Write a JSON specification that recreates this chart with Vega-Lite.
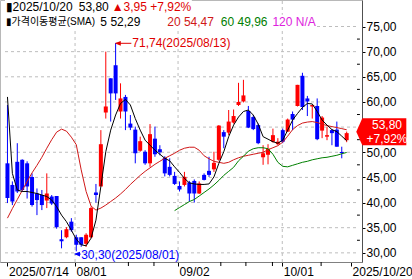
{
  "$schema": "https://vega.github.io/schema/vega-lite/v6.json",
  "width": 362,
  "height": 262,
  "autosize": {"type": "none"},
  "padding": {"left": 0, "top": 0, "right": 50, "bottom": 17},
  "background": "white",
  "config": {
    "view": {"stroke": "#b8b8b8"},
    "font": "Liberation Sans",
    "axis": {"labelFontSize": 12, "labelColor": "#000000", "labelFont": "Liberation Sans", "labelOverlap": false, "labelFlush": false, "labelBound": false, "tickColor": "#000000", "grid": false},
    "axisX": {"labelAlign": "left", "labelPadding": 0, "labelOffset": 1, "tickSize": 4, "domainColor": "#808080"},
    "axisY": {"labelPadding": 1, "tickSize": 3, "domainColor": "#505050"}
  },
  "data": {"values": [
    {"d":"07/14","i":0,"o":47.8,"h":59.4,"l":39.9,"c":40.9,"s5":61.0,"s20":36.9},
    {"d":"07/15","i":1,"o":43.5,"h":44.2,"l":39.5,"c":40.2,"s5":45.8,"s20":38.8},
    {"d":"07/16","i":2,"o":48.1,"h":51.8,"l":41.9,"c":42.2,"s5":42.5,"s20":40.6},
    {"d":"07/17","i":3,"o":48.5,"h":48.6,"l":42.2,"c":42.5,"s5":42.2,"s20":42.4},
    {"d":"07/18","i":4,"o":47.8,"h":48.2,"l":40.8,"c":43.2,"s5":42.2,"s20":44.2},
    {"d":"07/21","i":5,"o":45.1,"h":45.8,"l":39.2,"c":39.5,"s5":42.0,"s20":45.9},
    {"d":"07/22","i":6,"o":41.8,"h":42.8,"l":37.5,"c":40.5,"s5":41.8,"s20":47.4},
    {"d":"07/23","i":7,"o":41.5,"h":42.5,"l":38.5,"c":39.5,"s5":41.5,"s20":49.0},
    {"d":"07/24","i":8,"o":40.4,"h":45.8,"l":38.9,"c":41.8,"s5":41.2,"s20":50.8},
    {"d":"07/25","i":9,"o":41.2,"h":41.5,"l":39.5,"c":39.8,"s5":40.5,"s20":52.5},
    {"d":"07/28","i":10,"o":41.3,"h":41.3,"l":34.8,"c":35.1,"s5":39.2,"s20":54.0},
    {"d":"07/29","i":11,"o":32.7,"h":34.5,"l":30.9,"c":32.3,"s5":37.5,"s20":54.6},
    {"d":"07/30","i":12,"o":33.1,"h":35.1,"l":32.9,"c":34.7,"s5":36.2,"s20":54.2},
    {"d":"07/31","i":13,"o":36.2,"h":36.9,"l":34.2,"c":34.5,"s5":34.5,"s20":53.0},
    {"d":"08/01","i":14,"o":33.1,"h":33.6,"l":30.3,"c":31.6,"s5":32.7,"s20":51.5},
    {"d":"08/04","i":15,"o":33.1,"h":33.1,"l":31.2,"c":31.6,"s5":31.6,"s20":46.5},
    {"d":"08/05","i":16,"o":31.8,"h":33.9,"l":31.2,"c":33.6,"s5":31.4,"s20":42.2},
    {"d":"08/06","i":17,"o":33.1,"h":39.2,"l":32.9,"c":38.9,"s5":32.9,"s20":39.3},
    {"d":"08/07","i":18,"o":42.0,"h":43.7,"l":40.0,"c":41.5,"s5":36.5,"s20":38.5},
    {"d":"08/08","i":19,"o":43.2,"h":54.4,"l":43.2,"c":51.6,"s5":43.2,"s20":38.9},
    {"d":"08/11","i":20,"o":57.9,"h":70.0,"l":56.7,"c":59.1,"s5":50.1,"s20":39.5},
    {"d":"08/12","i":21,"o":64.7,"h":64.7,"l":56.1,"c":61.7,"s5":54.4,"s20":40.2},
    {"d":"08/13","i":22,"o":67.3,"h":71.74,"l":60.4,"c":61.7,"s5":57.4,"s20":40.9},
    {"d":"08/14","i":23,"o":58.1,"h":63.7,"l":56.7,"c":60.7,"s5":59.7,"s20":41.7},
    {"d":"08/15","i":24,"o":61.0,"h":61.4,"l":54.4,"c":58.1,"s5":60.5,"s20":42.6},
    {"d":"08/18","i":25,"o":55.7,"h":57.4,"l":54.4,"c":54.9,"s5":59.4,"s20":43.6},
    {"d":"08/19","i":26,"o":54.5,"h":55.1,"l":47.8,"c":49.8,"s5":56.7,"s20":44.5},
    {"d":"08/20","i":27,"o":50.3,"h":53.1,"l":50.1,"c":52.2,"s5":54.4,"s20":45.4},
    {"d":"08/21","i":28,"o":50.1,"h":50.4,"l":47.5,"c":47.8,"s5":52.4,"s20":46.2},
    {"d":"08/22","i":29,"o":47.8,"h":55.6,"l":47.1,"c":53.6,"s5":51.4,"s20":46.9},
    {"d":"08/25","i":30,"o":52.7,"h":55.1,"l":49.1,"c":49.6,"s5":50.4,"s20":47.6},
    {"d":"08/26","i":31,"o":50.6,"h":51.4,"l":49.4,"c":50.0,"s5":49.6,"s20":48.2},
    {"d":"08/27","i":32,"o":48.9,"h":49.2,"l":45.2,"c":45.8,"s5":48.8,"s20":48.8},
    {"d":"08/28","i":33,"o":47.1,"h":48.8,"l":45.2,"c":45.5,"s5":48.3,"s20":49.3},
    {"d":"08/29","i":34,"o":45.3,"h":46.1,"l":43.5,"c":43.7,"s5":47.1,"s20":49.8,"s60":38.4},
    {"d":"09/02","i":35,"o":43.3,"h":44.2,"l":42.2,"c":42.6,"s5":46.0,"s20":50.4,"s60":39.0},
    {"d":"09/03","i":36,"o":43.5,"h":46.1,"l":43.2,"c":45.1,"s5":44.8,"s20":50.8,"s60":39.6},
    {"d":"09/04","i":37,"o":44.0,"h":44.3,"l":40.2,"c":41.8,"s5":43.9,"s20":51.0,"s60":40.2},
    {"d":"09/05","i":38,"o":44.3,"h":44.6,"l":40.0,"c":41.8,"s5":43.7,"s20":51.0,"s60":40.6},
    {"d":"09/08","i":39,"o":41.8,"h":44.2,"l":41.7,"c":43.8,"s5":43.6,"s20":50.4,"s60":41.3},
    {"d":"09/09","i":40,"o":45.5,"h":45.8,"l":44.4,"c":44.5,"s5":43.6,"s20":49.3,"s60":42.0},
    {"d":"09/10","i":41,"o":46.3,"h":49.1,"l":45.1,"c":45.5,"s5":43.7,"s20":48.7,"s60":42.7},
    {"d":"09/11","i":42,"o":46.6,"h":50.1,"l":46.1,"c":47.9,"s5":45.1,"s20":48.2,"s60":43.5},
    {"d":"09/12","i":43,"o":48.5,"h":55.4,"l":48.3,"c":55.3,"s5":47.8,"s20":48.0,"s60":44.4},
    {"d":"09/15","i":44,"o":54.0,"h":54.4,"l":50.8,"c":53.1,"s5":50.1,"s20":47.8,"s60":45.4},
    {"d":"09/16","i":45,"o":53.9,"h":58.4,"l":53.4,"c":56.1,"s5":53.1,"s20":48.0,"s60":46.2},
    {"d":"09/17","i":46,"o":55.9,"h":58.5,"l":55.7,"c":57.2,"s5":55.4,"s20":48.5,"s60":47.0},
    {"d":"09/18","i":47,"o":59.4,"h":63.8,"l":59.2,"c":60.0,"s5":57.0,"s20":48.9,"s60":48.3},
    {"d":"09/19","i":48,"o":60.1,"h":64.4,"l":59.9,"c":61.3,"s5":58.1,"s20":49.2,"s60":49.2},
    {"d":"09/22","i":49,"o":58.2,"h":59.2,"l":54.8,"c":54.9,"s5":58.4,"s20":49.4,"s60":50.2},
    {"d":"09/23","i":50,"o":57.0,"h":57.4,"l":54.4,"c":54.6,"s5":57.4,"s20":49.6,"s60":50.7},
    {"d":"09/24","i":51,"o":55.4,"h":55.7,"l":51.6,"c":51.8,"s5":55.6,"s20":49.8,"s60":50.9},
    {"d":"09/25","i":52,"o":49.0,"h":51.4,"l":47.5,"c":49.8,"s5":53.1,"s20":50.0,"s60":50.9},
    {"d":"09/26","i":53,"o":49.5,"h":51.6,"l":47.6,"c":50.7,"s5":52.6,"s20":50.5,"s60":50.7},
    {"d":"09/29","i":54,"o":52.1,"h":54.7,"l":51.9,"c":53.4,"s5":52.1,"s20":50.9,"s60":49.6},
    {"d":"09/30","i":55,"o":51.6,"h":52.8,"l":51.4,"c":52.1,"s5":51.8,"s20":51.3,"s60":48.0},
    {"d":"10/01","i":56,"o":54.4,"h":54.7,"l":51.8,"c":52.1,"s5":52.4,"s20":52.0,"s60":47.2},
    {"d":"10/02","i":57,"o":54.1,"h":56.7,"l":54.0,"c":56.5,"s5":54.4,"s20":53.2,"s60":47.1},
    {"d":"10/03","i":58,"o":57.6,"h":58.1,"l":54.4,"c":56.5,"s5":56.4,"s20":54.5,"s60":47.4},
    {"d":"10/06","i":59,"o":59.2,"h":63.4,"l":59.1,"c":63.4,"s5":57.7,"s20":55.3,"s60":47.7},
    {"d":"10/07","i":60,"o":65.2,"h":65.8,"l":58.4,"c":59.0,"s5":58.9,"s20":55.8,"s60":48.0},
    {"d":"10/08","i":61,"o":60.7,"h":61.2,"l":57.2,"c":60.1,"s5":59.7,"s20":56.0,"s60":48.2},
    {"d":"10/09","i":62,"o":59.1,"h":59.4,"l":56.7,"c":59.4,"s5":59.6,"s20":56.1,"s60":48.5},
    {"d":"10/10","i":63,"o":59.2,"h":60.7,"l":52.4,"c":52.6,"s5":58.1,"s20":55.9,"s60":48.7},
    {"d":"10/13","i":64,"o":54.3,"h":57.2,"l":52.8,"c":56.9,"s5":56.4,"s20":55.6,"s60":48.9},
    {"d":"10/14","i":65,"o":53.1,"h":55.1,"l":52.4,"c":53.4,"s5":55.4,"s20":55.3,"s60":49.0},
    {"d":"10/15","i":66,"o":54.4,"h":54.6,"l":51.4,"c":53.8,"s5":54.5,"s20":55.1,"s60":49.2},
    {"d":"10/16","i":67,"o":54.5,"h":56.1,"l":51.1,"c":51.1,"s5":54.1,"s20":54.9,"s60":49.4},
    {"d":"10/17","i":68,"o":50.05,"h":51.1,"l":48.8,"c":49.85,"s5":53.2,"s20":54.7,"s60":49.7},
    {"d":"10/20","i":69,"o":52.4,"h":54.1,"l":52.0,"c":53.8,"s5":52.3,"s20":54.47,"s60":49.96}
  ]},
  "layer": [
    {
      "data": {"values": [{"g":30},{"g":35},{"g":40},{"g":45},{"g":50},{"g":55},{"g":60},{"g":65},{"g":70},{"g":75}]},
      "mark": {"type": "rule", "color": "#bdbdbd", "strokeDash": [3, 3], "strokeWidth": 1},
      "encoding": {
        "x": {"datum": -0.5, "type": "quantitative", "title": null, "scale": {"domain": [-0.5, 71.1], "nice": false, "zero": false}, "axis": {"values": [0, 13.75, 34.7, 55.9, 69.9], "labelExpr": "datum.value==0?'2025/07/14':datum.value==13.75?'08/01':datum.value==34.7?'09/02':datum.value==55.9?'10/01':'2025/10/20'"}},
        "x2": {"datum": 71.1},
        "y": {"field": "g", "type": "quantitative", "title": null, "scale": {"domain": [28.18, 80.27], "nice": false, "zero": false}, "axis": {"orient": "right", "values": [30, 35, 40, 45, 50, 55, 60, 65, 70, 75], "labelExpr": "datum.value==55?'':replace(format(datum.value,'.2f'),'.',',')"}}
      }
    },
    {
      "data": {"values": [{"t":13.75},{"t":34.7},{"t":55.9}]},
      "mark": {"type": "rule", "color": "#bdbdbd", "strokeDash": [3, 3], "strokeWidth": 1},
      "encoding": {
        "x": {"field": "t", "type": "quantitative", "title": null, "scale": {"domain": [-0.5, 71.1], "nice": false, "zero": false}, "axis": {"values": [0, 13.75, 34.7, 55.9, 69.9], "labelExpr": "datum.value==0?'2025/07/14':datum.value==13.75?'08/01':datum.value==34.7?'09/02':datum.value==55.9?'10/01':'2025/10/20'"}},
        "y": {"datum": 28.18, "type": "quantitative", "title": null, "scale": {"domain": [28.18, 80.27], "nice": false, "zero": false}, "axis": {"orient": "right", "values": [30, 35, 40, 45, 50, 55, 60, 65, 70, 75], "labelExpr": "datum.value==55?'':replace(format(datum.value,'.2f'),'.',',')"}},
        "y2": {"datum": 80.27}
      }
    },
    {
      "data": {"values": [{"t":24.6},{"t":29.8},{"t":43.4},{"t":48.5},{"t":53.9},{"t":63.8}]},
      "mark": {"type": "rule", "color": "#000000", "strokeWidth": 1},
      "encoding": {
        "x": {"field": "t", "type": "quantitative", "title": null, "scale": {"domain": [-0.5, 71.1], "nice": false, "zero": false}, "axis": {"values": [0, 13.75, 34.7, 55.9, 69.9], "labelExpr": "datum.value==0?'2025/07/14':datum.value==13.75?'08/01':datum.value==34.7?'09/02':datum.value==55.9?'10/01':'2025/10/20'"}},
        "y": {"datum": 28.18, "type": "quantitative", "title": null, "scale": {"domain": [28.18, 80.27], "nice": false, "zero": false}, "axis": {"orient": "right", "values": [30, 35, 40, 45, 50, 55, 60, 65, 70, 75], "labelExpr": "datum.value==55?'':replace(format(datum.value,'.2f'),'.',',')"}},
        "y2": {"datum": 27.38}
      }
    },
    {
      "data": {"values": [{"t":32.5},{"t":37.5},{"t":42.5},{"t":47.5},{"t":52.5},{"t":57.5},{"t":62.5},{"t":67.5},{"t":72.5}]},
      "mark": {"type": "rule", "color": "#000000", "strokeWidth": 1},
      "encoding": {
        "x": {"datum": 71.1, "type": "quantitative", "title": null, "scale": {"domain": [-0.5, 71.1], "nice": false, "zero": false}, "axis": {"values": [0, 13.75, 34.7, 55.9, 69.9], "labelExpr": "datum.value==0?'2025/07/14':datum.value==13.75?'08/01':datum.value==34.7?'09/02':datum.value==55.9?'10/01':'2025/10/20'"}},
        "x2": {"datum": 71.69},
        "y": {"field": "t", "type": "quantitative", "title": null, "scale": {"domain": [28.18, 80.27], "nice": false, "zero": false}, "axis": {"orient": "right", "values": [30, 35, 40, 45, 50, 55, 60, 65, 70, 75], "labelExpr": "datum.value==55?'':replace(format(datum.value,'.2f'),'.',',')"}}
      }
    },
    {
      "mark": {"type": "rule", "strokeWidth": 1},
      "encoding": {
        "x": {"field": "i", "type": "quantitative", "title": null, "scale": {"domain": [-0.5, 71.1], "nice": false, "zero": false}, "axis": {"values": [0, 13.75, 34.7, 55.9, 69.9], "labelExpr": "datum.value==0?'2025/07/14':datum.value==13.75?'08/01':datum.value==34.7?'09/02':datum.value==55.9?'10/01':'2025/10/20'"}},
        "y": {"field": "l", "type": "quantitative", "title": null, "scale": {"domain": [28.18, 80.27], "nice": false, "zero": false}, "axis": {"orient": "right", "values": [30, 35, 40, 45, 50, 55, 60, 65, 70, 75], "labelExpr": "datum.value==55?'':replace(format(datum.value,'.2f'),'.',',')"}},
        "y2": {"field": "h"},
        "color": {"condition": {"test": "datum.c >= datum.o", "value": "#ff0000"}, "value": "#0000ff"}
      }
    },
    {
      "mark": {"type": "bar", "size": 4},
      "encoding": {
        "x": {"field": "i", "type": "quantitative", "title": null, "scale": {"domain": [-0.5, 71.1], "nice": false, "zero": false}, "axis": {"values": [0, 13.75, 34.7, 55.9, 69.9], "labelExpr": "datum.value==0?'2025/07/14':datum.value==13.75?'08/01':datum.value==34.7?'09/02':datum.value==55.9?'10/01':'2025/10/20'"}},
        "y": {"field": "o", "type": "quantitative", "title": null, "scale": {"domain": [28.18, 80.27], "nice": false, "zero": false}, "axis": {"orient": "right", "values": [30, 35, 40, 45, 50, 55, 60, 65, 70, 75], "labelExpr": "datum.value==55?'':replace(format(datum.value,'.2f'),'.',',')"}},
        "y2": {"field": "c"},
        "color": {"condition": {"test": "datum.c >= datum.o", "value": "#ff0000"}, "value": "#0000ff"}
      }
    },
    {
      "mark": {"type": "line", "color": "#d01818", "strokeWidth": 1},
      "encoding": {
        "x": {"field": "i", "type": "quantitative", "title": null, "scale": {"domain": [-0.5, 71.1], "nice": false, "zero": false}, "axis": {"values": [0, 13.75, 34.7, 55.9, 69.9], "labelExpr": "datum.value==0?'2025/07/14':datum.value==13.75?'08/01':datum.value==34.7?'09/02':datum.value==55.9?'10/01':'2025/10/20'"}},
        "y": {"field": "s20", "type": "quantitative", "title": null, "scale": {"domain": [28.18, 80.27], "nice": false, "zero": false}, "axis": {"orient": "right", "values": [30, 35, 40, 45, 50, 55, 60, 65, 70, 75], "labelExpr": "datum.value==55?'':replace(format(datum.value,'.2f'),'.',',')"}}
      }
    },
    {
      "mark": {"type": "line", "color": "#008000", "strokeWidth": 1},
      "encoding": {
        "x": {"field": "i", "type": "quantitative", "title": null, "scale": {"domain": [-0.5, 71.1], "nice": false, "zero": false}, "axis": {"values": [0, 13.75, 34.7, 55.9, 69.9], "labelExpr": "datum.value==0?'2025/07/14':datum.value==13.75?'08/01':datum.value==34.7?'09/02':datum.value==55.9?'10/01':'2025/10/20'"}},
        "y": {"field": "s60", "type": "quantitative", "title": null, "scale": {"domain": [28.18, 80.27], "nice": false, "zero": false}, "axis": {"orient": "right", "values": [30, 35, 40, 45, 50, 55, 60, 65, 70, 75], "labelExpr": "datum.value==55?'':replace(format(datum.value,'.2f'),'.',',')"}}
      }
    },
    {
      "mark": {"type": "line", "color": "#000000", "strokeWidth": 1},
      "encoding": {
        "x": {"field": "i", "type": "quantitative", "title": null, "scale": {"domain": [-0.5, 71.1], "nice": false, "zero": false}, "axis": {"values": [0, 13.75, 34.7, 55.9, 69.9], "labelExpr": "datum.value==0?'2025/07/14':datum.value==13.75?'08/01':datum.value==34.7?'09/02':datum.value==55.9?'10/01':'2025/10/20'"}},
        "y": {"field": "s5", "type": "quantitative", "title": null, "scale": {"domain": [28.18, 80.27], "nice": false, "zero": false}, "axis": {"orient": "right", "values": [30, 35, 40, 45, 50, 55, 60, 65, 70, 75], "labelExpr": "datum.value==55?'':replace(format(datum.value,'.2f'),'.',',')"}}
      }
    },
    {
      "data": {"values": [{}]},
      "mark": {"type": "rect", "color": "white"},
      "encoding": {
        "x": {"datum": -0.5, "type": "quantitative", "title": null, "scale": {"domain": [-0.5, 71.1], "nice": false, "zero": false}, "axis": {"values": [0, 13.75, 34.7, 55.9, 69.9], "labelExpr": "datum.value==0?'2025/07/14':datum.value==13.75?'08/01':datum.value==34.7?'09/02':datum.value==55.9?'10/01':'2025/10/20'"}},
        "x2": {"datum": 37.5},
        "y": {"datum": 80.27, "type": "quantitative", "title": null, "scale": {"domain": [28.18, 80.27], "nice": false, "zero": false}, "axis": {"orient": "right", "values": [30, 35, 40, 45, 50, 55, 60, 65, 70, 75], "labelExpr": "datum.value==55?'':replace(format(datum.value,'.2f'),'.',',')"}},
        "y2": {"datum": 77.35}
      }
    },
    {
      "data": {"values": [{}]},
      "mark": {"type": "rect", "color": "white"},
      "encoding": {
        "x": {"datum": -0.5, "type": "quantitative", "title": null, "scale": {"domain": [-0.5, 71.1], "nice": false, "zero": false}, "axis": {"values": [0, 13.75, 34.7, 55.9, 69.9], "labelExpr": "datum.value==0?'2025/07/14':datum.value==13.75?'08/01':datum.value==34.7?'09/02':datum.value==55.9?'10/01':'2025/10/20'"}},
        "x2": {"datum": 62.8},
        "y": {"datum": 77.35, "type": "quantitative", "title": null, "scale": {"domain": [28.18, 80.27], "nice": false, "zero": false}, "axis": {"orient": "right", "values": [30, 35, 40, 45, 50, 55, 60, 65, 70, 75], "labelExpr": "datum.value==55?'':replace(format(datum.value,'.2f'),'.',',')"}},
        "y2": {"datum": 74.6}
      }
    },
    {
      "data": {"values": [{}]},
      "mark": {"type": "text", "align": "left", "baseline": "middle", "fontSize": 12, "font": "Liberation Sans, DejaVu Sans", "color": "#000000", "text": "▮2025/10/20"},
      "encoding": {
        "x": {"datum": -0.3, "type": "quantitative", "title": null, "scale": {"domain": [-0.5, 71.1], "nice": false, "zero": false}, "axis": {"values": [0, 13.75, 34.7, 55.9, 69.9], "labelExpr": "datum.value==0?'2025/07/14':datum.value==13.75?'08/01':datum.value==34.7?'09/02':datum.value==55.9?'10/01':'2025/10/20'"}},
        "y": {"datum": 78.9, "type": "quantitative", "title": null, "scale": {"domain": [28.18, 80.27], "nice": false, "zero": false}, "axis": {"orient": "right", "values": [30, 35, 40, 45, 50, 55, 60, 65, 70, 75], "labelExpr": "datum.value==55?'':replace(format(datum.value,'.2f'),'.',',')"}}
      }
    },
    {
      "data": {"values": [{}]},
      "mark": {"type": "text", "align": "left", "baseline": "middle", "fontSize": 12, "font": "Liberation Sans", "color": "#000000", "text": "53,80"},
      "encoding": {
        "x": {"datum": 14.5, "type": "quantitative", "title": null, "scale": {"domain": [-0.5, 71.1], "nice": false, "zero": false}, "axis": {"values": [0, 13.75, 34.7, 55.9, 69.9], "labelExpr": "datum.value==0?'2025/07/14':datum.value==13.75?'08/01':datum.value==34.7?'09/02':datum.value==55.9?'10/01':'2025/10/20'"}},
        "y": {"datum": 78.9, "type": "quantitative", "title": null, "scale": {"domain": [28.18, 80.27], "nice": false, "zero": false}, "axis": {"orient": "right", "values": [30, 35, 40, 45, 50, 55, 60, 65, 70, 75], "labelExpr": "datum.value==55?'':replace(format(datum.value,'.2f'),'.',',')"}}
      }
    },
    {
      "data": {"values": [{}]},
      "mark": {"type": "text", "align": "left", "baseline": "middle", "fontSize": 12, "font": "Liberation Sans, DejaVu Sans", "color": "#e00000", "text": "▲3,95 +7,92%"},
      "encoding": {
        "x": {"datum": 21.2, "type": "quantitative", "title": null, "scale": {"domain": [-0.5, 71.1], "nice": false, "zero": false}, "axis": {"values": [0, 13.75, 34.7, 55.9, 69.9], "labelExpr": "datum.value==0?'2025/07/14':datum.value==13.75?'08/01':datum.value==34.7?'09/02':datum.value==55.9?'10/01':'2025/10/20'"}},
        "y": {"datum": 78.9, "type": "quantitative", "title": null, "scale": {"domain": [28.18, 80.27], "nice": false, "zero": false}, "axis": {"orient": "right", "values": [30, 35, 40, 45, 50, 55, 60, 65, 70, 75], "labelExpr": "datum.value==55?'':replace(format(datum.value,'.2f'),'.',',')"}}
      }
    },
    {
      "data": {"values": [{}]},
      "mark": {"type": "text", "align": "left", "baseline": "middle", "fontSize": 10, "font": "Liberation Sans, DejaVu Sans, Noto Sans CJK KR", "color": "#000000", "text": "▮가격이동평균(SMA)"},
      "encoding": {
        "x": {"datum": -0.3, "type": "quantitative", "title": null, "scale": {"domain": [-0.5, 71.1], "nice": false, "zero": false}, "axis": {"values": [0, 13.75, 34.7, 55.9, 69.9], "labelExpr": "datum.value==0?'2025/07/14':datum.value==13.75?'08/01':datum.value==34.7?'09/02':datum.value==55.9?'10/01':'2025/10/20'"}},
        "y": {"datum": 75.9, "type": "quantitative", "title": null, "scale": {"domain": [28.18, 80.27], "nice": false, "zero": false}, "axis": {"orient": "right", "values": [30, 35, 40, 45, 50, 55, 60, 65, 70, 75], "labelExpr": "datum.value==55?'':replace(format(datum.value,'.2f'),'.',',')"}}
      }
    },
    {
      "data": {"values": [{}]},
      "mark": {"type": "text", "align": "left", "baseline": "middle", "fontSize": 12, "font": "Liberation Sans", "color": "#000000", "text": "5 52,29"},
      "encoding": {
        "x": {"datum": 18.9, "type": "quantitative", "title": null, "scale": {"domain": [-0.5, 71.1], "nice": false, "zero": false}, "axis": {"values": [0, 13.75, 34.7, 55.9, 69.9], "labelExpr": "datum.value==0?'2025/07/14':datum.value==13.75?'08/01':datum.value==34.7?'09/02':datum.value==55.9?'10/01':'2025/10/20'"}},
        "y": {"datum": 75.9, "type": "quantitative", "title": null, "scale": {"domain": [28.18, 80.27], "nice": false, "zero": false}, "axis": {"orient": "right", "values": [30, 35, 40, 45, 50, 55, 60, 65, 70, 75], "labelExpr": "datum.value==55?'':replace(format(datum.value,'.2f'),'.',',')"}}
      }
    },
    {
      "data": {"values": [{}]},
      "mark": {"type": "text", "align": "left", "baseline": "middle", "fontSize": 12, "font": "Liberation Sans", "color": "#d01818", "text": "20 54,47"},
      "encoding": {
        "x": {"datum": 32.5, "type": "quantitative", "title": null, "scale": {"domain": [-0.5, 71.1], "nice": false, "zero": false}, "axis": {"values": [0, 13.75, 34.7, 55.9, 69.9], "labelExpr": "datum.value==0?'2025/07/14':datum.value==13.75?'08/01':datum.value==34.7?'09/02':datum.value==55.9?'10/01':'2025/10/20'"}},
        "y": {"datum": 75.9, "type": "quantitative", "title": null, "scale": {"domain": [28.18, 80.27], "nice": false, "zero": false}, "axis": {"orient": "right", "values": [30, 35, 40, 45, 50, 55, 60, 65, 70, 75], "labelExpr": "datum.value==55?'':replace(format(datum.value,'.2f'),'.',',')"}}
      }
    },
    {
      "data": {"values": [{}]},
      "mark": {"type": "text", "align": "left", "baseline": "middle", "fontSize": 12, "font": "Liberation Sans", "color": "#008000", "text": "60 49,96"},
      "encoding": {
        "x": {"datum": 43.4, "type": "quantitative", "title": null, "scale": {"domain": [-0.5, 71.1], "nice": false, "zero": false}, "axis": {"values": [0, 13.75, 34.7, 55.9, 69.9], "labelExpr": "datum.value==0?'2025/07/14':datum.value==13.75?'08/01':datum.value==34.7?'09/02':datum.value==55.9?'10/01':'2025/10/20'"}},
        "y": {"datum": 75.9, "type": "quantitative", "title": null, "scale": {"domain": [28.18, 80.27], "nice": false, "zero": false}, "axis": {"orient": "right", "values": [30, 35, 40, 45, 50, 55, 60, 65, 70, 75], "labelExpr": "datum.value==55?'':replace(format(datum.value,'.2f'),'.',',')"}}
      }
    },
    {
      "data": {"values": [{}]},
      "mark": {"type": "text", "align": "left", "baseline": "middle", "fontSize": 12, "font": "Liberation Sans", "color": "#dd22dd", "text": "120 N/A"},
      "encoding": {
        "x": {"datum": 53.9, "type": "quantitative", "title": null, "scale": {"domain": [-0.5, 71.1], "nice": false, "zero": false}, "axis": {"values": [0, 13.75, 34.7, 55.9, 69.9], "labelExpr": "datum.value==0?'2025/07/14':datum.value==13.75?'08/01':datum.value==34.7?'09/02':datum.value==55.9?'10/01':'2025/10/20'"}},
        "y": {"datum": 75.9, "type": "quantitative", "title": null, "scale": {"domain": [28.18, 80.27], "nice": false, "zero": false}, "axis": {"orient": "right", "values": [30, 35, 40, 45, 50, 55, 60, 65, 70, 75], "labelExpr": "datum.value==55?'':replace(format(datum.value,'.2f'),'.',',')"}}
      }
    },
    {
      "data": {"values": [{}]},
      "mark": {"type": "rule", "color": "#e00000", "strokeWidth": 1},
      "encoding": {
        "x": {"datum": 22.1, "type": "quantitative", "title": null, "scale": {"domain": [-0.5, 71.1], "nice": false, "zero": false}, "axis": {"values": [0, 13.75, 34.7, 55.9, 69.9], "labelExpr": "datum.value==0?'2025/07/14':datum.value==13.75?'08/01':datum.value==34.7?'09/02':datum.value==55.9?'10/01':'2025/10/20'"}},
        "x2": {"datum": 25.2},
        "y": {"datum": 71.66, "type": "quantitative", "title": null, "scale": {"domain": [28.18, 80.27], "nice": false, "zero": false}, "axis": {"orient": "right", "values": [30, 35, 40, 45, 50, 55, 60, 65, 70, 75], "labelExpr": "datum.value==55?'':replace(format(datum.value,'.2f'),'.',',')"}}
      }
    },
    {
      "data": {"values": [{}]},
      "mark": {"type": "point", "shape": "M-1,0L1,-0.8L1,0.8Z", "filled": true, "size": 36, "color": "#e00000", "opacity": 1},
      "encoding": {
        "x": {"datum": 22.45, "type": "quantitative", "title": null, "scale": {"domain": [-0.5, 71.1], "nice": false, "zero": false}, "axis": {"values": [0, 13.75, 34.7, 55.9, 69.9], "labelExpr": "datum.value==0?'2025/07/14':datum.value==13.75?'08/01':datum.value==34.7?'09/02':datum.value==55.9?'10/01':'2025/10/20'"}},
        "y": {"datum": 71.66, "type": "quantitative", "title": null, "scale": {"domain": [28.18, 80.27], "nice": false, "zero": false}, "axis": {"orient": "right", "values": [30, 35, 40, 45, 50, 55, 60, 65, 70, 75], "labelExpr": "datum.value==55?'':replace(format(datum.value,'.2f'),'.',',')"}}
      }
    },
    {
      "data": {"values": [{}]},
      "mark": {"type": "text", "align": "left", "baseline": "middle", "fontSize": 12, "font": "Liberation Sans", "color": "#e00000", "text": "71,74(2025/08/13)"},
      "encoding": {
        "x": {"datum": 25.4, "type": "quantitative", "title": null, "scale": {"domain": [-0.5, 71.1], "nice": false, "zero": false}, "axis": {"values": [0, 13.75, 34.7, 55.9, 69.9], "labelExpr": "datum.value==0?'2025/07/14':datum.value==13.75?'08/01':datum.value==34.7?'09/02':datum.value==55.9?'10/01':'2025/10/20'"}},
        "y": {"datum": 71.66, "type": "quantitative", "title": null, "scale": {"domain": [28.18, 80.27], "nice": false, "zero": false}, "axis": {"orient": "right", "values": [30, 35, 40, 45, 50, 55, 60, 65, 70, 75], "labelExpr": "datum.value==55?'':replace(format(datum.value,'.2f'),'.',',')"}}
      }
    },
    {
      "data": {"values": [{}]},
      "mark": {"type": "rule", "color": "#0000ff", "strokeWidth": 1},
      "encoding": {
        "x": {"datum": 13.8, "type": "quantitative", "title": null, "scale": {"domain": [-0.5, 71.1], "nice": false, "zero": false}, "axis": {"values": [0, 13.75, 34.7, 55.9, 69.9], "labelExpr": "datum.value==0?'2025/07/14':datum.value==13.75?'08/01':datum.value==34.7?'09/02':datum.value==55.9?'10/01':'2025/10/20'"}},
        "x2": {"datum": 14.9},
        "y": {"datum": 29.75, "type": "quantitative", "title": null, "scale": {"domain": [28.18, 80.27], "nice": false, "zero": false}, "axis": {"orient": "right", "values": [30, 35, 40, 45, 50, 55, 60, 65, 70, 75], "labelExpr": "datum.value==55?'':replace(format(datum.value,'.2f'),'.',',')"}}
      }
    },
    {
      "data": {"values": [{}]},
      "mark": {"type": "point", "shape": "M-1,0L1,-0.8L1,0.8Z", "filled": true, "size": 36, "color": "#0000ff", "opacity": 1},
      "encoding": {
        "x": {"datum": 14.15, "type": "quantitative", "title": null, "scale": {"domain": [-0.5, 71.1], "nice": false, "zero": false}, "axis": {"values": [0, 13.75, 34.7, 55.9, 69.9], "labelExpr": "datum.value==0?'2025/07/14':datum.value==13.75?'08/01':datum.value==34.7?'09/02':datum.value==55.9?'10/01':'2025/10/20'"}},
        "y": {"datum": 29.75, "type": "quantitative", "title": null, "scale": {"domain": [28.18, 80.27], "nice": false, "zero": false}, "axis": {"orient": "right", "values": [30, 35, 40, 45, 50, 55, 60, 65, 70, 75], "labelExpr": "datum.value==55?'':replace(format(datum.value,'.2f'),'.',',')"}}
      }
    },
    {
      "data": {"values": [{}]},
      "mark": {"type": "text", "align": "left", "baseline": "middle", "fontSize": 12, "font": "Liberation Sans", "color": "#0000ff", "text": "30,30(2025/08/01)"},
      "encoding": {
        "x": {"datum": 15.0, "type": "quantitative", "title": null, "scale": {"domain": [-0.5, 71.1], "nice": false, "zero": false}, "axis": {"values": [0, 13.75, 34.7, 55.9, 69.9], "labelExpr": "datum.value==0?'2025/07/14':datum.value==13.75?'08/01':datum.value==34.7?'09/02':datum.value==55.9?'10/01':'2025/10/20'"}},
        "y": {"datum": 29.6, "type": "quantitative", "title": null, "scale": {"domain": [28.18, 80.27], "nice": false, "zero": false}, "axis": {"orient": "right", "values": [30, 35, 40, 45, 50, 55, 60, 65, 70, 75], "labelExpr": "datum.value==55?'':replace(format(datum.value,'.2f'),'.',',')"}}
      }
    },
    {
      "data": {"values": [{}]},
      "mark": {"type": "point", "shape": "M-1,0L-0.76,-0.54L1,-0.54L1,0.54L-0.76,0.54Z", "filled": true, "size": 2500, "color": "#ff0000", "opacity": 1},
      "encoding": {
        "x": {"datum": 76.04, "type": "quantitative", "title": null, "scale": {"domain": [-0.5, 71.1], "nice": false, "zero": false}, "axis": {"values": [0, 13.75, 34.7, 55.9, 69.9], "labelExpr": "datum.value==0?'2025/07/14':datum.value==13.75?'08/01':datum.value==34.7?'09/02':datum.value==55.9?'10/01':'2025/10/20'"}},
        "y": {"datum": 54.1, "type": "quantitative", "title": null, "scale": {"domain": [28.18, 80.27], "nice": false, "zero": false}, "axis": {"orient": "right", "values": [30, 35, 40, 45, 50, 55, 60, 65, 70, 75], "labelExpr": "datum.value==55?'':replace(format(datum.value,'.2f'),'.',',')"}}
      }
    },
    {
      "data": {"values": [{}]},
      "mark": {"type": "text", "align": "center", "baseline": "middle", "fontSize": 12, "font": "Liberation Sans", "color": "#ffffff", "text": "53,80"},
      "encoding": {
        "x": {"datum": 77.2, "type": "quantitative", "title": null, "scale": {"domain": [-0.5, 71.1], "nice": false, "zero": false}, "axis": {"values": [0, 13.75, 34.7, 55.9, 69.9], "labelExpr": "datum.value==0?'2025/07/14':datum.value==13.75?'08/01':datum.value==34.7?'09/02':datum.value==55.9?'10/01':'2025/10/20'"}},
        "y": {"datum": 55.5, "type": "quantitative", "title": null, "scale": {"domain": [28.18, 80.27], "nice": false, "zero": false}, "axis": {"orient": "right", "values": [30, 35, 40, 45, 50, 55, 60, 65, 70, 75], "labelExpr": "datum.value==55?'':replace(format(datum.value,'.2f'),'.',',')"}}
      }
    },
    {
      "data": {"values": [{}]},
      "mark": {"type": "text", "align": "center", "baseline": "middle", "fontSize": 12, "font": "Liberation Sans", "color": "#ffffff", "text": "+7,92%"},
      "encoding": {
        "x": {"datum": 77.2, "type": "quantitative", "title": null, "scale": {"domain": [-0.5, 71.1], "nice": false, "zero": false}, "axis": {"values": [0, 13.75, 34.7, 55.9, 69.9], "labelExpr": "datum.value==0?'2025/07/14':datum.value==13.75?'08/01':datum.value==34.7?'09/02':datum.value==55.9?'10/01':'2025/10/20'"}},
        "y": {"datum": 52.65, "type": "quantitative", "title": null, "scale": {"domain": [28.18, 80.27], "nice": false, "zero": false}, "axis": {"orient": "right", "values": [30, 35, 40, 45, 50, 55, 60, 65, 70, 75], "labelExpr": "datum.value==55?'':replace(format(datum.value,'.2f'),'.',',')"}}
      }
    }
  ]
}
